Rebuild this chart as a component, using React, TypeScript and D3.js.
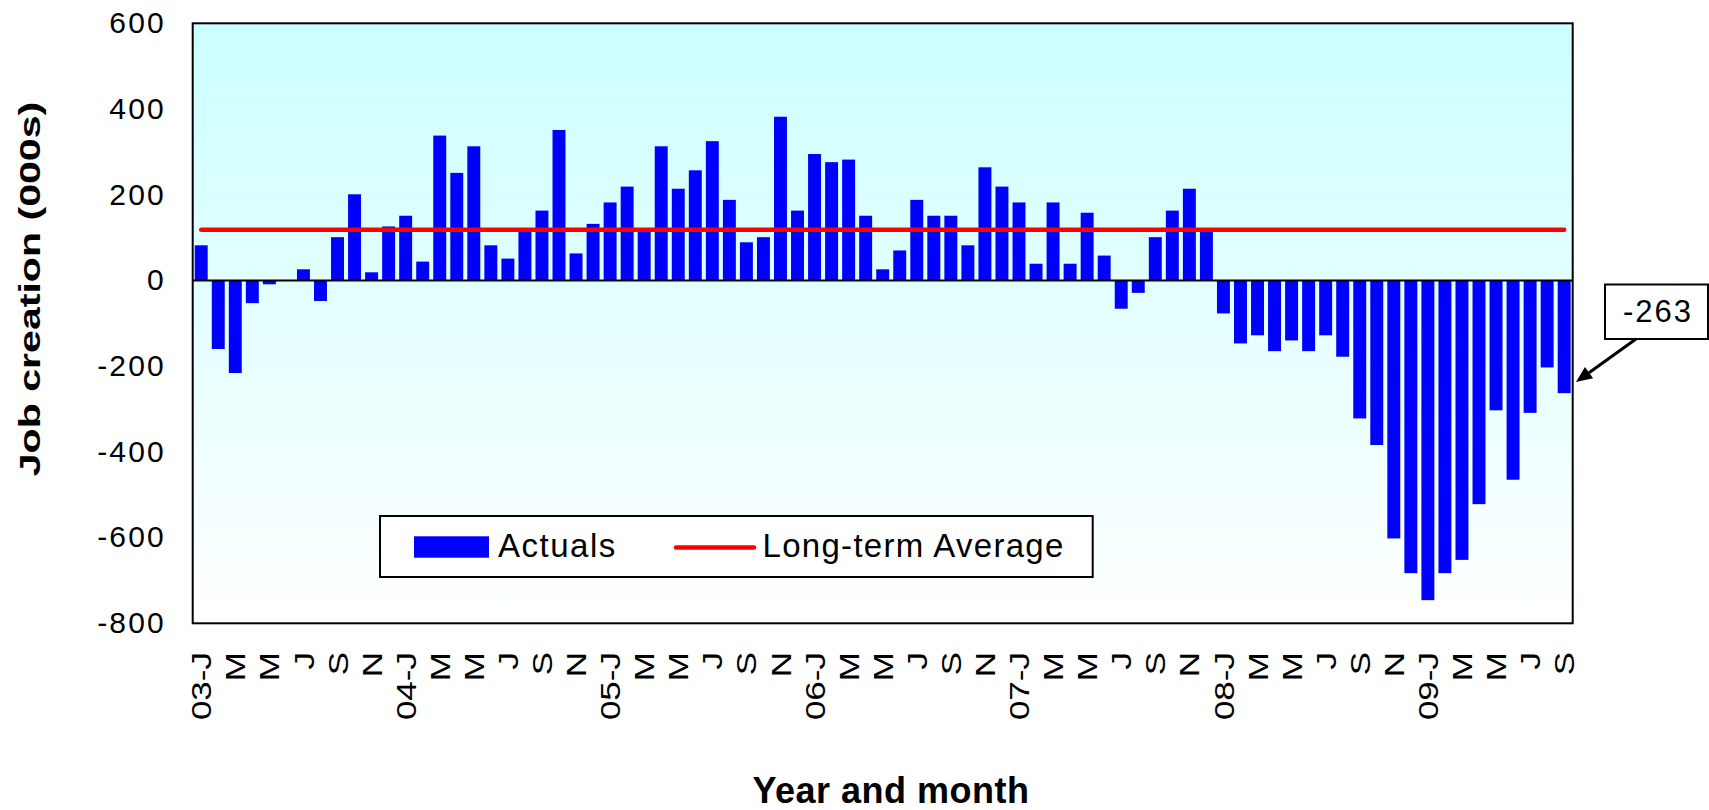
import React from 'react';
import * as d3 from 'd3';

// Monthly job creation (000s), Jan 2003 .. Sep 2009
const jobs2003 = [82, -160, -216, -53, -9, 0, 26, -48, 101, 201, 19, 126];
const jobs2004 = [151, 44, 338, 251, 313, 82, 51, 115, 163, 351, 63, 132];
const jobs2005 = [182, 219, 116, 313, 214, 257, 325, 188, 89, 101, 382, 163];
const jobs2006 = [295, 276, 282, 151, 26, 70, 188, 151, 151, 82, 264, 219];
const jobs2007 = [182, 39, 182, 39, 158, 58, -66, -29, 101, 163, 214, 115];
const jobs2008 = [-77, -147, -128, -165, -140, -165, -128, -178, -322, -384, -602, -683];
const jobs2009 = [-746, -683, -652, -522, -303, -465, -309, -203, -263];

const longTermAverage = 118;

const xTickLabels = [
  '03-J', 'M', 'M', 'J', 'S', 'N',
  '04-J', 'M', 'M', 'J', 'S', 'N',
  '05-J', 'M', 'M', 'J', 'S', 'N',
  '06-J', 'M', 'M', 'J', 'S', 'N',
  '07-J', 'M', 'M', 'J', 'S', 'N',
  '08-J', 'M', 'M', 'J', 'S', 'N',
  '09-J', 'M', 'M', 'J', 'S',
];
const yTicks = [-800, -600, -400, -200, 0, 200, 400, 600];
const calloutText = '-263';

const values = [...jobs2003, ...jobs2004, ...jobs2005, ...jobs2006, ...jobs2007, ...jobs2008, ...jobs2009];

const W = 1709;
const H = 810;
const left = 192.7;
const right = 1572.7;
const top = 23.3;
const bottom = 623.3;
const FONT = "Arial, 'Liberation Sans', sans-serif";

export default function App() {
  const idx = d3.range(values.length);
  const x = d3.scaleBand<number>().domain(idx).range([left, right]).paddingInner(0.24).paddingOuter(0.12);
  const y = d3.scaleLinear().domain([-800, 600]).range([bottom, top]);
  const cx = (i: number) => (x(i) as number) + x.bandwidth() / 2;

  const avgLine = d3.line<number>().x((i) => cx(i)).y(() => y(longTermAverage));

  // callout arrow
  const ax0 = 1636, ay0 = 339, ax1 = 1576, ay1 = 382;
  const dx = ax1 - ax0, dy = ay1 - ay0;
  const L = Math.hypot(dx, dy);
  const ux = dx / L, uy = dy / L;
  const hl = 16, hw = 7;
  const bx = ax1 - ux * hl, by = ay1 - uy * hl;
  const head = `${ax1},${ay1} ${bx - uy * hw},${by + ux * hw} ${bx + uy * hw},${by - ux * hw}`;

  return (
    <svg width={W} height={H} style={{ position: 'absolute', left: 0, top: 0, background: '#fff' }} fontFamily={FONT}>
      <defs>
        <linearGradient id="bg" x1="0" y1="0" x2="0" y2="1">
          <stop offset="0%" stopColor="#CCFFFF" />
          <stop offset="100%" stopColor="#FFFFFF" />
        </linearGradient>
      </defs>
      <rect x={left} y={top} width={right - left} height={bottom - top} fill="url(#bg)" />
      {values.map((v, i) => (
        <rect
          key={i}
          x={x(i)}
          width={x.bandwidth()}
          y={Math.min(y(v), y(0))}
          height={Math.abs(y(v) - y(0))}
          fill="#0000FF"
        />
      ))}
      <line x1={left} x2={right} y1={y(0)} y2={y(0)} stroke="#000" strokeWidth={2} />
      <path d={avgLine([0, values.length - 1]) || ''} stroke="#FF0000" strokeWidth={4.5} fill="none" strokeLinecap="round" />
      <rect x={left} y={top} width={right - left} height={bottom - top} fill="none" stroke="#000" strokeWidth={2} />

      {yTicks.map((t) => (
        <text key={t} x={166} y={y(t)} dy="0.33em" textAnchor="end" fontSize={30} letterSpacing={2.2} fill="#000">
          {t}
        </text>
      ))}

      {xTickLabels.map((lab, k) => {
        const i = k * 2;
        return (
          <text
            key={k}
            transform={`translate(${cx(i)},${652}) rotate(-90) scale(1.25,1)`}
            dy="0.36em"
            textAnchor="end"
            fontSize={28}
            fill="#000"
          >
            {lab}
          </text>
        );
      })}

      <text
        transform={`translate(29,289) rotate(-90) scale(1.37,1)`}
        dy="0.36em"
        textAnchor="middle"
        fontSize={30}
        fontWeight="bold"
        fill="#000"
      >
        Job creation (000s)
      </text>
      <text x={891} y={803} textAnchor="middle" fontSize={36} fontWeight="bold" letterSpacing={0.5} fill="#000">
        Year and month
      </text>

      {/* legend */}
      <rect x={380} y={516} width={712.7} height={61} fill="#FFFFFF" stroke="#000" strokeWidth={2} />
      <rect x={414} y={536.3} width={75} height={21.4} fill="#0000FF" />
      <text x={498} y={556.5} fontSize={33} letterSpacing={1.5} fill="#000">Actuals</text>
      <line x1={676} x2={754} y1={547.5} y2={547.5} stroke="#FF0000" strokeWidth={4.5} strokeLinecap="round" />
      <text x={762.5} y={556.5} fontSize={33} letterSpacing={1.3} fill="#000">Long-term Average</text>

      {/* callout */}
      <rect x={1605} y={284.5} width={103} height={54.5} fill="#FFFFFF" stroke="#000" strokeWidth={2} />
      <text x={1658} y={322} textAnchor="middle" fontSize={31} letterSpacing={2} fill="#000">{calloutText}</text>
      <line x1={ax0} y1={ay0} x2={bx} y2={by} stroke="#000" strokeWidth={3} />
      <polygon points={head} fill="#000" />
    </svg>
  );
}
